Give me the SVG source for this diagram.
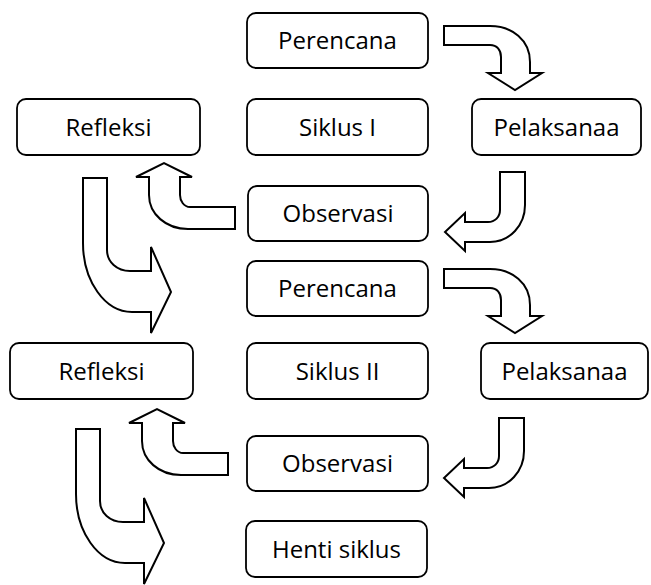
<svg xmlns="http://www.w3.org/2000/svg" width="651" height="585" viewBox="0 0 651 585">
<style>
.box{fill:#fff;stroke:#000;stroke-width:1.8}
.lbl{font-family:"Open Sans","Noto Sans",sans-serif;font-size:24px;fill:#000;text-anchor:middle}
.arr{fill:#fff;stroke:#000;stroke-width:2;stroke-linejoin:miter}
</style>
<rect width="651" height="585" fill="#fff"/>
<g id="connectors">
<path id="a1" class="arr" d="M444,26 L490,26 C512,26 530,40 530,62 L530,73 L542,73 L515,90 L488,73 L501,73 L501,57 C501,50 497,45 490,45 L444,45 Z"/>
<path id="a2" class="arr" d="M500,172 L525,172 L525,205 C525,225 510,242 490,242 L465,242 L465,251 L445,232 L465,213 L465,222 L488,222 C495,222 500,217 500,210 Z"/>
<path id="a3" class="arr" d="M235,207 L190,207 C184,207 180,201 180,195 L180,177 L192,177 L164,163 L136,177 L149,177 L149,195 C149,214 166,229 188,229 L235,229 Z"/>
<path id="a4" class="arr" d="M83,178 L107,178 L107,250 C107,262 117,271 130,271 L151,271 L151,247 L171,292 L151,333 L151,312 L132,312 C105,312 83,281 83,243 Z"/>
<path id="a5" class="arr" transform="translate(0,243)" d="M444,26 L490,26 C512,26 530,40 530,62 L530,73 L542,73 L515,90 L488,73 L501,73 L501,57 C501,50 497,45 490,45 L444,45 Z"/>
<path id="a6" class="arr" transform="translate(-1,246)" d="M500,172 L525,172 L525,205 C525,225 510,242 490,242 L465,242 L465,251 L445,232 L465,213 L465,222 L488,222 C495,222 500,217 500,210 Z"/>
<path id="a7" class="arr" transform="translate(-7,246)" d="M235,207 L190,207 C184,207 180,201 180,195 L180,177 L192,177 L164,163 L136,177 L149,177 L149,195 C149,214 166,229 188,229 L235,229 Z"/>
<path id="a8" class="arr" transform="translate(-7,251)" d="M83,178 L107,178 L107,250 C107,262 117,271 130,271 L151,271 L151,247 L171,292 L151,333 L151,312 L132,312 C105,312 83,281 83,243 Z"/>
</g>
<g id="perencana1"><rect class="box" x="247" y="13" width="181" height="55" rx="9"/><text class="lbl" x="337.5" y="49">Perencana</text></g>
<g id="refleksi1"><rect class="box" x="17" y="99" width="183" height="56" rx="9"/><text class="lbl" x="108.5" y="136">Refleksi</text></g>
<g id="siklus1"><rect class="box" x="247" y="99" width="181" height="56" rx="9"/><text class="lbl" x="337.5" y="136">Siklus I</text></g>
<g id="pelaksanaa1"><rect class="box" x="472" y="99" width="169" height="56" rx="9"/><text class="lbl" x="556.5" y="136">Pelaksanaa</text></g>
<g id="observasi1"><rect class="box" x="248" y="186" width="180" height="55" rx="9"/><text class="lbl" x="338" y="222">Observasi</text></g>
<g id="perencana2"><rect class="box" x="247" y="261" width="181" height="55" rx="9"/><text class="lbl" x="337.5" y="297">Perencana</text></g>
<g id="refleksi2"><rect class="box" x="10" y="343" width="183" height="56" rx="9"/><text class="lbl" x="101.5" y="380">Refleksi</text></g>
<g id="siklus2"><rect class="box" x="247" y="343" width="181" height="56" rx="9"/><text class="lbl" x="337.5" y="380">Siklus II</text></g>
<g id="pelaksanaa2"><rect class="box" x="481" y="343" width="167" height="56" rx="9"/><text class="lbl" x="564.5" y="380">Pelaksanaa</text></g>
<g id="observasi2"><rect class="box" x="247" y="436" width="181" height="55" rx="9"/><text class="lbl" x="337.5" y="472">Observasi</text></g>
<g id="henti"><rect class="box" x="246" y="521" width="181" height="56" rx="9"/><text class="lbl" x="336.5" y="558">Henti siklus</text></g>
</svg>
